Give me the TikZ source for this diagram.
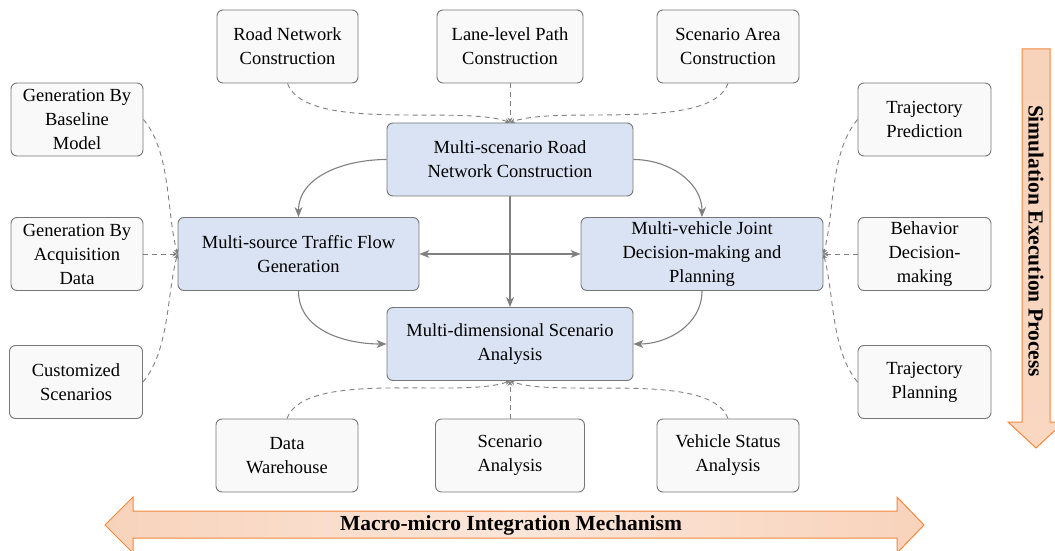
\documentclass[tikz,border=0pt]{standalone}
\usepackage{fontspec}
\setmainfont{Liberation Serif}
\usetikzlibrary{arrows.meta}

\definecolor{boxline}{HTML}{767676}
\definecolor{linkgray}{HTML}{808080}
\definecolor{subfill}{HTML}{FAF9F9}
\definecolor{corefill}{HTML}{DAE3F3}
\definecolor{bandline}{HTML}{F3873D}
\definecolor{banddark}{HTML}{F8D3BB}
\definecolor{bandlight}{HTML}{FBE6DA}

\tikzset{
  sub/.style={draw=boxline, fill=subfill, rounded corners=6pt, line width=0.9pt,
    minimum height=73pt, align=center, inner sep=2pt},
  core/.style={sub, fill=corefill},
  flow/.style={draw=linkgray, line width=1.1pt, -{Stealth[length=10pt,width=8pt,inset=3pt]}},
  feed/.style={draw=linkgray, line width=0.9pt, dash pattern=on 5pt off 4pt,
    -{Stealth[length=5pt,width=5pt]}},
  band/.style={draw=bandline, line width=1pt},
  bandtext/.style={font=\fontsize{21.5}{26}\selectfont\bfseries},
}

\begin{document}
\begin{tikzpicture}[x=1pt,y=1pt,font=\fontsize{18.5}{24}\selectfont]
\useasboundingbox (0,0) rectangle (1055,550);

% broad arrows
\path[band, left color=banddark, right color=banddark, middle color=bandlight]
  (105,25) -- (133,53) -- (133,39) -- (897,39) -- (897,53) -- (924,25)
  -- (897,-3) -- (897,12) -- (133,12) -- (133,-3) -- cycle;
\path[band, top color=banddark, bottom color=banddark!80!bandlight]
  (1022,501) -- (1050,501) -- (1050,128) -- (1064,128) -- (1036,102)
  -- (1008,128) -- (1022,128) -- cycle;
\node[bandtext] (mech) at (511,25) {Macro-micro Integration Mechanism};
\node[bandtext, rotate=-90] (simu) at (1036,309) {Simulation Execution Process};

% top row
\node[sub, minimum width=141pt] (road) at (287.5,503.5) {Road Network\\Construction};
\node[sub, minimum width=146pt] (lane) at (510,503.5) {Lane-level Path\\Construction};
\node[sub, minimum width=142pt] (area) at (728,503.5) {Scenario Area\\Construction};

% core modules
\node[core, minimum width=246pt] (ms) at (510,390.5) {Multi-scenario Road\\Network Construction};
\node[core, minimum width=241pt] (src) at (298.5,296) {Multi-source Traffic Flow\\Generation};
\node[core, minimum width=242pt] (veh) at (702,296) {Multi-vehicle Joint\\Decision-making and\\Planning};
\node[core, minimum width=246pt] (dim) at (510,206) {Multi-dimensional Scenario\\Analysis};

% left column
\node[sub, minimum width=132pt] (base) at (77,430.5) {Generation By\\Baseline\\Model};
\node[sub, minimum width=132pt] (acq) at (77,296) {Generation By\\Acquisition\\Data};
\node[sub, minimum width=133pt] (cust) at (76,168) {Customized\\Scenarios};

% right column
\node[sub, minimum width=133pt] (traj) at (924.5,430.5) {Trajectory\\Prediction};
\node[sub, minimum width=133pt] (behav) at (924.5,296) {Behavior\\Decision-\\making};
\node[sub, minimum width=133pt] (plan) at (924.5,168) {Trajectory\\Planning};

% bottom row
\node[sub, minimum width=142pt] (ware) at (287,94.5) {Data\\Warehouse};
\node[sub, minimum width=149pt] (sana) at (510,94.5) {Scenario\\Analysis};
\node[sub, minimum width=142pt] (vstat) at (728,94.5) {Vehicle Status\\Analysis};

% main flow
\draw[flow] (ms.west) to[out=180,in=90] (src.north);
\draw[flow] (ms.east) to[out=0,in=90] (veh.north);
\draw[flow] (ms.south) -- (dim.north);
\draw[flow, {Stealth[length=10pt,width=8pt,inset=3pt]}-{Stealth[length=10pt,width=8pt,inset=3pt]}] (src.east) -- (veh.west);
\draw[flow] (src.south) to[out=-90,in=180] (dim.west);
\draw[flow] (veh.south) to[out=-90,in=0] (dim.east);

% supporting inputs
\draw[feed] (road.south) to[out=-70,in=160,looseness=0.6] (ms.north);
\draw[feed] (lane.south) -- (ms.north);
\draw[feed] (area.south) to[out=-110,in=20,looseness=0.6] (ms.north);
\draw[feed] (base.east) to[out=-50,in=105,looseness=0.8] (src.west);
\draw[feed] (acq.east) -- (src.west);
\draw[feed] (cust.east) to[out=50,in=-105,looseness=0.8] (src.west);
\draw[feed] (traj.west) to[out=-130,in=75,looseness=0.8] (veh.east);
\draw[feed] (behav.west) -- (veh.east);
\draw[feed] (plan.west) to[out=130,in=-75,looseness=0.8] (veh.east);
\draw[feed] (ware.north) to[out=70,in=-160,looseness=0.6] (dim.south);
\draw[feed] (sana.north) -- (dim.south);
\draw[feed] (vstat.north) to[out=110,in=-20,looseness=0.6] (dim.south);
\end{tikzpicture}
\end{document}
